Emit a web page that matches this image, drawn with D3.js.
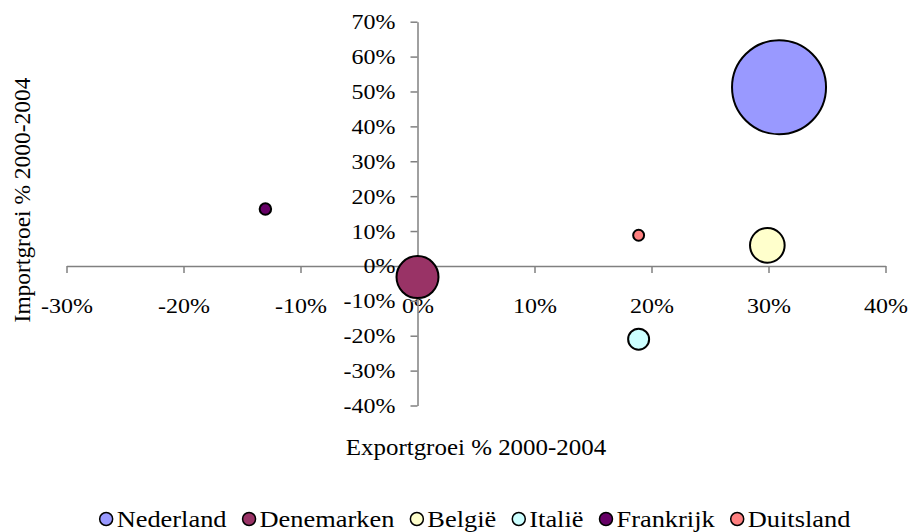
<!DOCTYPE html>
<html>
<head>
<meta charset="utf-8">
<script src="https://cdn.jsdelivr.net/npm/d3@7"></script>
<style>
  html, body { margin: 0; padding: 0; background: #fff; }
  svg text { font-family: "Liberation Serif", "Times New Roman", serif !important; fill: #000; }
</style>
</head>
<body>
<svg id="chart" width="911" height="532"></svg>
<script>
// ---- data ----
const countries    = ["Nederland", "Denemarken", "België", "Italië", "Frankrijk", "Duitsland"];
const exportGrowth = [0.309, 0.0, 0.299, 0.189, -0.130, 0.189];
const importGrowth = [0.512, -0.032, 0.059, -0.210, 0.163, 0.088];
const bubbleSize   = [2210, 441, 300, 110, 33, 30];
const colors       = ["#9999FF", "#993366", "#FFFFCC", "#CCFFFF", "#660066", "#FF8080"];
const xTicks = [-0.3, -0.2, -0.1, 0, 0.1, 0.2, 0.3, 0.4];
const yTicks = [-0.4, -0.3, -0.2, -0.1, 0, 0.1, 0.2, 0.3, 0.4, 0.5, 0.6, 0.7];
const xTitle = "Exportgroei % 2000-2004";
const yTitle = "Importgroei % 2000-2004";

const svg = d3.select("#chart");
const x = d3.scaleLinear().domain([-0.3, 0.4]).range([66.5, 885.5]);
const y = d3.scaleLinear().domain([-0.4, 0.7]).range([405.5, 21.7]);
const r = d3.scaleSqrt().domain([0, d3.max(bubbleSize)]).range([0, 47]);
const fmt = d => Math.round(d * 100) + "%";
const SX = 1.09;

// x axis
const xAxis = svg.append("g")
  .attr("transform", `translate(0,${y(0)})`)
  .call(d3.axisBottom(x).tickValues(xTicks).tickFormat(fmt).tickSize(7).tickSizeOuter(0).tickPadding(24));
// y axis
const yAxis = svg.append("g")
  .attr("transform", `translate(${x(0)},0)`)
  .call(d3.axisLeft(y).tickValues(yTicks).tickFormat(fmt).tickSize(7).tickSizeOuter(0).tickPadding(15));

[xAxis, yAxis].forEach(g => {
  g.attr("font-family", null).attr("font-size", null);
  g.select(".domain").attr("stroke", "#808080").attr("stroke-width", 1.5);
  g.selectAll(".tick line").attr("stroke", "#808080").attr("stroke-width", 1.5);
  g.selectAll(".tick text").attr("font-size", 22).attr("fill", "#000")
    .attr("transform", `scale(${SX},1)`);
});
yAxis.selectAll(".tick text").attr("x", -22 / SX);

// bubbles
const data = countries.map((c, i) => ({ c, x: exportGrowth[i], y: importGrowth[i], s: bubbleSize[i], col: colors[i] }));
svg.append("g").selectAll("circle").data(data).join("circle")
  .attr("cx", d => x(d.x))
  .attr("cy", d => y(d.y))
  .attr("r", d => r(d.s))
  .attr("fill", d => d.col)
  .attr("stroke", "#000")
  .attr("stroke-width", 2);

// axis titles
svg.append("text")
  .attr("transform", "translate(476,455) scale(1.085,1)")
  .attr("text-anchor", "middle")
  .attr("font-size", 23)
  .text(xTitle);
svg.append("text")
  .attr("transform", "translate(30,200) rotate(-90) scale(1.02,1)")
  .attr("text-anchor", "middle")
  .attr("font-size", 23)
  .text(yTitle);

// legend
const LS = 1.1;
const leg = svg.append("g");
let cx = 0;
data.forEach(d => {
  const g = leg.append("g");
  g.append("circle").attr("cx", 6.5).attr("cy", -8).attr("r", 6.5)
    .attr("fill", d.col).attr("stroke", "#000").attr("stroke-width", 1.5);
  const t = g.append("text").attr("transform", `translate(17,0) scale(${LS},1)`)
    .attr("font-size", 24).text(d.c);
  const w = 17 + t.node().getComputedTextLength() * LS;
  g.attr("transform", `translate(${cx},0)`);
  cx += w + 16;
});
const total = cx - 16;
leg.attr("transform", `translate(${475 - total / 2},527)`);
</script>
</body>
</html>
